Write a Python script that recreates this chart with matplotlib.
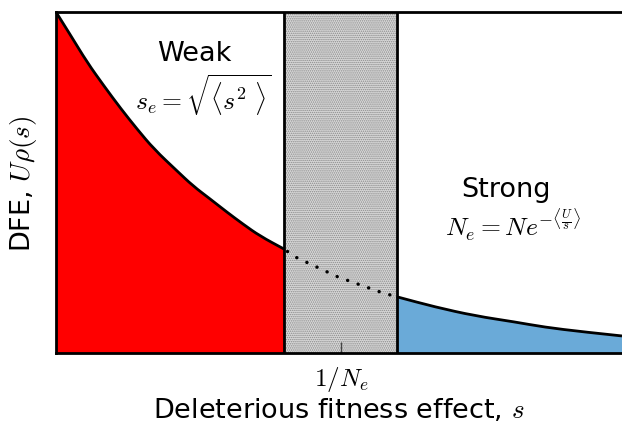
import matplotlib
matplotlib.use("Agg")
import matplotlib.pyplot as plt
from matplotlib.path import Path
from matplotlib.patches import PathPatch
import numpy as np

plt.rcParams['mathtext.fontset'] = 'cm'
plt.rcParams['font.family'] = ['DejaVu Sans']
plt.rcParams['hatch.linewidth'] = 0.7

# Curve (s, U*rho(s)), axis units 0..1
curve_s = [0.000, 0.0265, 0.0548, 0.0848, 0.1148, 0.1431, 0.1731, 0.2138,
           0.2420, 0.2721, 0.3021, 0.3304, 0.3604, 0.4028, 0.4223, 0.4982,
           0.5777, 0.6042, 0.6696, 0.7403, 0.8110, 0.8622, 0.9311, 1.000]
curve_y = [1.000, 0.930, 0.853, 0.783, 0.716, 0.657, 0.598, 0.534,
           0.490, 0.452, 0.413, 0.378, 0.343, 0.305, 0.282, 0.223,
           0.176, 0.164, 0.135, 0.109, 0.091, 0.076, 0.062, 0.050]

band_lo = 0.403
band_hi = 0.602
tick_pos = [0.504]
tick_labels = [r'$1/N_e$']

s = np.array(curve_s)
y = np.array(curve_y)


def smooth_path(xs, ys, closed_to_base=False):
    pts = list(zip(xs, ys))
    n = len(pts)
    verts = [pts[0]]
    codes = [Path.MOVETO]
    if n == 2:
        verts.append(pts[1]); codes.append(Path.LINETO)
    else:
        for i in range(1, n - 2):
            mid = ((pts[i][0] + pts[i + 1][0]) / 2, (pts[i][1] + pts[i + 1][1]) / 2)
            verts += [pts[i], mid]
            codes += [Path.CURVE3, Path.CURVE3]
        verts += [pts[n - 2], pts[n - 1]]
        codes += [Path.CURVE3, Path.CURVE3]
    if closed_to_base:
        verts += [(xs[-1], 0), (xs[0], 0), (xs[0], 0)]
        codes += [Path.LINETO, Path.LINETO, Path.CLOSEPOLY]
    return Path(verts, codes)


fig = plt.figure(figsize=(6.22, 4.31), dpi=100)
ax = fig.add_axes([56/622, 77/431, 1 - 56/622, 341/431])

y_lo = np.interp(band_lo, s, y)
y_hi = np.interp(band_hi, s, y)

# weak region
s_w = np.concatenate([s[s < band_lo], [band_lo]])
y_w = np.concatenate([y[s < band_lo], [y_lo]])
ax.add_patch(PathPatch(smooth_path(s_w, y_w, True), facecolor='#ff0000', lw=0, zorder=1))
ax.add_patch(PathPatch(smooth_path(s_w, y_w), facecolor='none', edgecolor='black',
                       lw=2, zorder=3))

# strong region
s_st = np.concatenate([[band_hi], s[s > band_hi]])
y_st = np.concatenate([[y_hi], y[s > band_hi]])
ax.add_patch(PathPatch(smooth_path(s_st, y_st, True), facecolor='#6aaad8', lw=0, zorder=1))
ax.add_patch(PathPatch(smooth_path(s_st, y_st), facecolor='none', edgecolor='black',
                       lw=2, zorder=3))

# band
ax.axvspan(band_lo, band_hi, facecolor='#d8d8d8', edgecolor='#8a8a8a',
           hatch='........', lw=0, zorder=0.5)
ax.axvline(band_lo, color='black', lw=2, zorder=4)
ax.axvline(band_hi, color='black', lw=2, zorder=4)

# dotted part
mb = (s > band_lo) & (s < band_hi)
s_b = np.concatenate([[band_lo], s[mb], [band_hi]])
y_b = np.concatenate([[y_lo], y[mb], [y_hi]])
ax.plot(s_b, y_b, color='black', lw=2.5, linestyle=(2, (0.01, 3.2)),
        dash_capstyle='round', zorder=3)

ax.set_xlim(0, 1)
ax.set_ylim(0, 1)
ax.set_yticks([])
ax.set_xticks(tick_pos)
ax.set_xticklabels(tick_labels, fontsize=18)
ax.tick_params(axis='x', direction='in', length=8, width=1, color='#444444', pad=8)
for sp in ['left', 'bottom', 'top']:
    ax.spines[sp].set_linewidth(2)
ax.spines['right'].set_visible(False)

ax.set_xlabel(r'Deleterious fitness effect, $s$', fontsize=19.5, labelpad=2)
ax.set_ylabel(r'DFE, $U\rho(s)$', fontsize=19.5, labelpad=12)

ax.text(0.245, 0.88, 'Weak', fontsize=19.5, ha='center', va='center')
ax.text(0.26, 0.76, r'$s_e = \sqrt{\langle s^2 \ \rangle}$', fontsize=18.5,
        ha='center', va='center')
ax.text(0.795, 0.48, 'Strong', fontsize=19.5, ha='center', va='center')
ax.text(0.807, 0.38, r'$N_e = N e^{-\langle \frac{U}{s} \rangle}$', fontsize=18.5,
        ha='center', va='center')

fig.savefig('out.png', dpi=100)
